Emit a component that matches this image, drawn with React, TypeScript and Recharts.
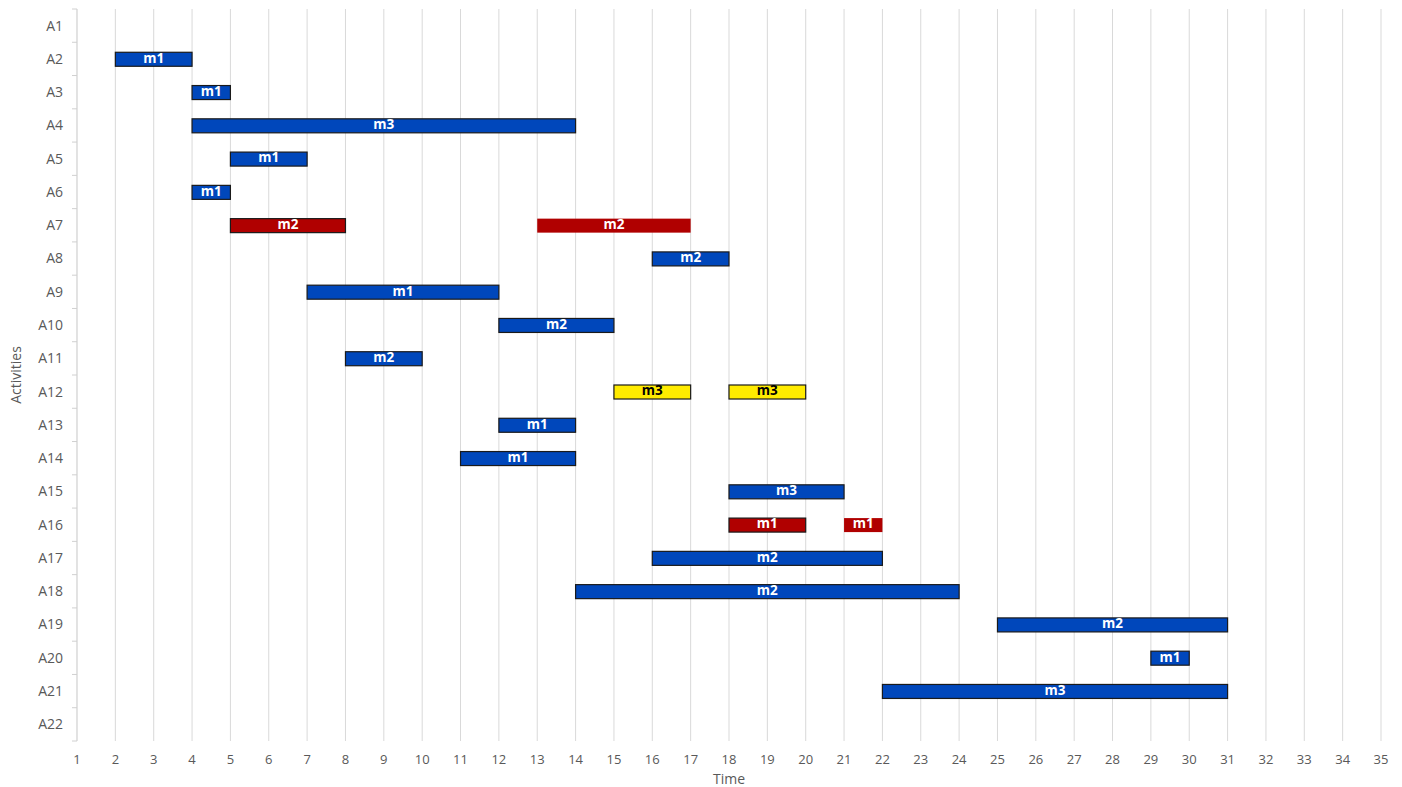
import React from 'react';
import { BarChart, Bar, XAxis, YAxis, CartesianGrid, Label } from 'recharts';

const activities = ['A1','A2','A3','A4','A5','A6','A7','A8','A9','A10','A11','A12','A13','A14','A15','A16','A17','A18','A19','A20','A21','A22'];
const seg1Start = [null,2,4,4,5,4,5,16,7,12,8,15,12,11,18,18,16,14,25,29,22,null];
const seg1End = [null,4,5,14,7,5,8,18,12,15,10,17,14,14,21,20,22,24,31,30,31,null];
const seg1Machine = [null,'m1','m1','m3','m1','m1','m2','m2','m1','m2','m2','m3','m1','m1','m3','m1','m2','m2','m2','m1','m3',null];
const seg1Status = [null,'normal','normal','normal','normal','normal','late','normal','normal','normal','normal','pending','normal','normal','normal','late','normal','normal','normal','normal','normal',null];
const seg2Start = [null,null,null,null,null,null,13,null,null,null,null,18,null,null,null,21,null,null,null,null,null,null];
const seg2End = [null,null,null,null,null,null,17,null,null,null,null,20,null,null,null,22,null,null,null,null,null,null];
const seg2Machine = [null,null,null,null,null,null,'m2',null,null,null,null,'m3',null,null,null,'m1',null,null,null,null,null,null];
const seg2Status = [null,null,null,null,null,null,'resumed',null,null,null,null,'pending',null,null,null,'resumed',null,null,null,null,null,null];
const timeTicks = Array.from({ length: 35 }, (_, i) => i + 1);

const statusStyle: Record<string, { fill: string; stroke: string; text: string }> = {
  normal: { fill: '#0047BB', stroke: '#1a1a1a', text: '#ffffff' },
  late: { fill: '#B00000', stroke: '#1a1a1a', text: '#ffffff' },
  resumed: { fill: '#B00000', stroke: 'none', text: '#ffffff' },
  pending: { fill: '#FFEB00', stroke: '#1a1a1a', text: '#000000' },
};

const data = activities.map((a, i) => ({
  activity: a,
  seg1: seg1Start[i] != null ? [seg1Start[i], seg1End[i]] : null,
  seg2: seg2Start[i] != null ? [seg2Start[i], seg2End[i]] : null,
  m1: seg1Machine[i],
  s1: seg1Status[i],
  m2: seg2Machine[i],
  s2: seg2Status[i],
}));

const FONT = '"Open Sans", "Segoe UI", sans-serif';
const W = 1402;
const H = 787;
const TOP = 9;
const PLOT_BOTTOM = 741;
const BAND = (PLOT_BOTTOM - TOP) / activities.length;

const makeShape = (mKey: string, sKey: string) => (props: any) => {
  const { x, y, width, height, payload } = props;
  if (!payload || payload[sKey] == null || width == null) return <g />;
  const st = statusStyle[payload[sKey]];
  return (
    <g>
      <rect x={x} y={y} width={width} height={height} fill={st.fill} stroke={st.stroke} strokeWidth={1.2} />
      <text
        x={x + width / 2}
        y={y + height / 2 - 1}
        dy="0.32em"
        textAnchor="middle"
        fill={st.text}
        fontFamily={FONT}
        fontWeight={700}
        fontSize={13.5}
      >
        {payload[mKey]}
      </text>
    </g>
  );
};

const YTick = (props: any) => {
  const { x, y, payload, index } = props;
  const last = index === activities.length - 1;
  return (
    <g>
      <line x1={x + 9} x2={x + 14} y1={y - BAND / 2} y2={y - BAND / 2} stroke="#d0d0d0" />
      {last && <line x1={x + 9} x2={x + 14} y1={y + BAND / 2} y2={y + BAND / 2} stroke="#d0d0d0" />}
      <text x={x} y={y} dy="0.35em" textAnchor="end" fill="#595959" fontFamily={FONT} fontSize={14}>
        {payload.value}
      </text>
    </g>
  );
};

export default function App() {
  return (
    <div style={{ position: 'absolute', left: 0, top: 0, width: W, height: H, background: '#fff' }}>
      <BarChart
        width={W}
        height={H}
        data={data}
        layout="vertical"
        margin={{ top: TOP, right: 21, bottom: 0, left: 0 }}
        barSize={14}
        barGap={-14}
      >
        <CartesianGrid horizontal={false} vertical stroke="#d9d9d9" />
        <XAxis
          type="number"
          domain={[1, 35]}
          ticks={timeTicks}
          interval={0}
          axisLine={false}
          tickLine={false}
          tickSize={0}
          tickMargin={14}
          height={H - PLOT_BOTTOM}
          tick={{ fill: '#595959', fontSize: 13, fontFamily: FONT }}
        >
          <Label
            content={() => (
              <text x={729} y={779} dy="0.35em" textAnchor="middle" fill="#595959" fontFamily={FONT} fontSize={14}>
                Time
              </text>
            )}
          />
        </XAxis>
        <YAxis
          type="category"
          dataKey="activity"
          width={77}
          interval={0}
          axisLine={{ stroke: '#d9d9d9' }}
          tickLine={false}
          tickSize={0}
          tickMargin={14}
          tick={<YTick />}
        >
          <Label
            content={() => (
              <text
                transform={`translate(16,375) rotate(-90)`}
                textAnchor="middle"
                dy="0.35em"
                fill="#595959"
                fontFamily={FONT}
                fontSize={14}
              >
                Activities
              </text>
            )}
          />
        </YAxis>
        <Bar dataKey="seg1" isAnimationActive={false} shape={makeShape('m1', 's1')} />
        <Bar dataKey="seg2" isAnimationActive={false} shape={makeShape('m2', 's2')} />
      </BarChart>
    </div>
  );
}
